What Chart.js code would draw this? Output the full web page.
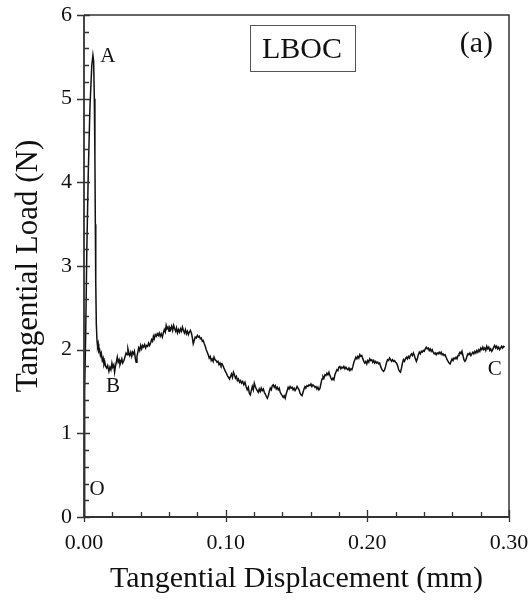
<!DOCTYPE html>
<html>
<head>
<meta charset="utf-8">
<script src="https://cdn.jsdelivr.net/npm/chart.js@4.4.1/dist/chart.umd.min.js"></script>
<style>
html,body{margin:0;padding:0;background:#fff;}
#wrap{width:532px;height:605px;}
</style>
</head>
<body>
<div id="wrap"><canvas id="c" width="532" height="605"></canvas></div>
<script>
// Tangential displacement (mm)
const dispMm = [
0,0.0003,0.0006,0.0012,0.0020,0.0030,0.0042,0.0055,0.0063,0.0068,0.0073,0.0077,0.0080,0.0083,0.0087,0.0092,0.0096,0.0100,0.0104,0.0110,
0.0116,0.0122,0.0129,0.0135,0.0141,0.0147,0.0153,0.0160,0.0167,0.0176,0.0183,0.0190,0.0197,0.0203,0.0210,0.0216,0.0222,0.0229,0.0235,0.0241,
0.0248,0.0254,0.0260,0.0267,0.0273,0.0282,0.0290,0.0297,0.0304,0.0310,0.0317,0.0323,0.0330,0.0337,0.0343,0.0350,0.0356,0.0362,0.0368,0.0374,
0.0380,0.0386,0.0393,0.0400,0.0407,0.0414,0.0421,0.0428,0.0435,0.0442,0.0449,0.0456,0.0463,0.0470,0.0477,0.0484,0.0490,0.0496,0.0503,0.0510,
0.0517,0.0524,0.0531,0.0538,0.0545,0.0553,0.0560,0.0567,0.0574,0.0580,0.0586,0.0593,0.0600,0.0606,0.0612,0.0619,0.0626,0.0633,0.0640,0.0647,
0.0653,0.0660,0.0667,0.0674,0.0681,0.0688,0.0695,0.0702,0.0709,0.0716,0.0723,0.0730,0.0737,0.0744,0.0751,0.0758,0.0765,0.0771,0.0778,0.0785,
0.0792,0.0800,0.0807,0.0814,0.0821,0.0828,0.0835,0.0842,0.0849,0.0856,0.0863,0.0870,0.0877,0.0884,0.0891,0.0898,0.0905,0.0912,0.0918,0.0925,
0.0932,0.0939,0.0946,0.0953,0.0960,0.0967,0.0974,0.0983,0.0990,0.0998,0.1005,0.1012,0.1020,0.1027,0.1034,0.1041,0.1048,0.1055,0.1062,0.1069,
0.1076,0.1083,0.1090,0.1098,0.1105,0.1112,0.1120,0.1128,0.1136,0.1144,0.1152,0.1160,0.1167,0.1174,0.1181,0.1188,0.1195,0.1202,0.1209,0.1216,
0.1223,0.1230,0.1237,0.1244,0.1251,0.1258,0.1266,0.1273,0.1280,0.1287,0.1294,0.1301,0.1308,0.1315,0.1322,0.1329,0.1336,0.1343,0.1350,0.1357,
0.1364,0.1371,0.1378,0.1385,0.1392,0.1399,0.1406,0.1413,0.1420,0.1427,0.1434,0.1441,0.1448,0.1455,0.1462,0.1469,0.1476,0.1483,0.1490,0.1497,
0.1504,0.1511,0.1518,0.1525,0.1532,0.1539,0.1546,0.1553,0.1560,0.1567,0.1574,0.1581,0.1588,0.1595,0.1602,0.1609,0.1616,0.1623,0.1630,0.1637,
0.1644,0.1651,0.1658,0.1666,0.1673,0.1680,0.1687,0.1694,0.1701,0.1708,0.1715,0.1722,0.1729,0.1736,0.1743,0.1750,0.1757,0.1764,0.1771,0.1778,
0.1785,0.1792,0.1799,0.1806,0.1813,0.1820,0.1827,0.1834,0.1842,0.1849,0.1856,0.1863,0.1870,0.1877,0.1884,0.1891,0.1898,0.1905,0.1912,0.1919,
0.1926,0.1933,0.1940,0.1947,0.1954,0.1961,0.1968,0.1975,0.1982,0.1989,0.1996,0.2003,0.2010,0.2017,0.2024,0.2031,0.2038,0.2045,0.2052,0.2059,
0.2066,0.2073,0.2080,0.2087,0.2094,0.2101,0.2108,0.2115,0.2122,0.2129,0.2136,0.2143,0.2150,0.2157,0.2164,0.2171,0.2178,0.2185,0.2192,0.2199,
0.2206,0.2213,0.2220,0.2227,0.2234,0.2241,0.2248,0.2255,0.2262,0.2269,0.2276,0.2283,0.2290,0.2297,0.2304,0.2311,0.2318,0.2325,0.2332,0.2339,
0.2346,0.2353,0.2360,0.2367,0.2374,0.2381,0.2388,0.2395,0.2402,0.2409,0.2416,0.2423,0.2430,0.2437,0.2444,0.2451,0.2458,0.2465,0.2472,0.2479,
0.2486,0.2493,0.2500,0.2507,0.2514,0.2521,0.2528,0.2535,0.2542,0.2549,0.2556,0.2563,0.2570,0.2577,0.2584,0.2591,0.2598,0.2605,0.2612,0.2619,
0.2626,0.2633,0.2640,0.2647,0.2654,0.2661,0.2668,0.2675,0.2682,0.2689,0.2696,0.2703,0.2710,0.2717,0.2724,0.2731,0.2738,0.2745,0.2752,0.2759,
0.2766,0.2773,0.2780,0.2787,0.2794,0.2801,0.2808,0.2815,0.2822,0.2829,0.2836,0.2843,0.2850,0.2857,0.2864,0.2871,0.2878,0.2885,0.2892,0.2899,
0.2906,0.2913,0.2920,0.2927,0.2934,0.2941,0.2948,0.2955,0.2962,0.2969
];
// Tangential load (N)
const loadN = [
0,0.8,1.5,2.2,3.2,4.1,4.9,5.4,5.52,5.45,5.0,4.3,3.5,2.8,2.3,2.1,2.04,2.07,1.98,2.0,
1.93,1.96,1.87,1.9,1.82,1.85,1.80,1.78,1.81,1.74,1.79,1.76,1.84,1.79,1.82,1.73,1.80,1.86,1.91,1.85,
1.88,1.82,1.85,1.89,1.84,1.87,1.92,1.96,1.94,2.01,1.96,1.93,1.97,1.92,1.97,1.95,1.98,1.90,1.85,1.92,
1.97,2.02,1.99,2.05,2.01,2.05,2.03,2.06,2.02,2.05,2.04,2.08,2.05,2.08,2.12,2.10,2.16,2.13,2.18,2.16,
2.19,2.17,2.20,2.16,2.19,2.15,2.20,2.24,2.21,2.29,2.25,2.27,2.22,2.26,2.24,2.28,2.23,2.29,2.25,2.22,
2.26,2.20,2.24,2.21,2.25,2.22,2.27,2.23,2.20,2.24,2.19,2.22,2.18,2.21,2.23,2.20,2.14,2.07,2.11,2.15,
2.14,2.17,2.15,2.16,2.13,2.14,2.10,2.11,2.07,2.04,2.00,1.97,1.94,1.90,1.92,1.87,1.89,1.86,1.91,1.88,
1.87,1.85,1.86,1.82,1.84,1.81,1.83,1.80,1.77,1.74,1.72,1.69,1.67,1.65,1.68,1.71,1.67,1.73,1.70,1.66,
1.68,1.63,1.65,1.61,1.63,1.60,1.62,1.58,1.61,1.56,1.52,1.55,1.48,1.46,1.51,1.56,1.52,1.60,1.56,1.53,
1.51,1.49,1.53,1.50,1.54,1.51,1.53,1.49,1.47,1.44,1.42,1.45,1.50,1.54,1.52,1.57,1.58,1.55,1.57,1.53,
1.55,1.52,1.54,1.49,1.47,1.45,1.43,1.45,1.42,1.47,1.51,1.55,1.53,1.56,1.54,1.55,1.52,1.54,1.51,1.53,
1.56,1.54,1.52,1.48,1.46,1.45,1.49,1.53,1.56,1.55,1.57,1.56,1.58,1.57,1.59,1.56,1.58,1.57,1.55,1.56,
1.53,1.55,1.52,1.54,1.60,1.65,1.68,1.66,1.70,1.69,1.72,1.70,1.73,1.69,1.66,1.64,1.66,1.64,1.70,1.73,
1.76,1.75,1.79,1.80,1.77,1.79,1.78,1.80,1.77,1.79,1.77,1.76,1.78,1.75,1.77,1.76,1.80,1.85,1.88,1.91,
1.89,1.92,1.90,1.94,1.92,1.93,1.89,1.86,1.84,1.86,1.83,1.87,1.85,1.89,1.87,1.88,1.85,1.87,1.84,1.86,
1.84,1.85,1.83,1.84,1.80,1.77,1.75,1.74,1.76,1.80,1.85,1.88,1.87,1.90,1.88,1.86,1.88,1.86,1.87,1.85,
1.84,1.81,1.77,1.74,1.73,1.78,1.84,1.88,1.86,1.89,1.91,1.89,1.92,1.90,1.93,1.95,1.93,1.96,1.93,1.89,
1.86,1.89,1.94,1.97,1.95,1.98,1.97,1.99,1.98,2.01,2.03,2.01,2.02,1.99,2.01,1.98,2.00,1.97,1.95,1.96,
1.94,1.96,1.95,1.97,1.95,1.97,1.94,1.95,1.93,1.94,1.91,1.88,1.86,1.84,1.83,1.86,1.89,1.87,1.90,1.89,
1.91,1.89,1.93,1.95,1.97,1.95,1.98,1.93,1.88,1.86,1.88,1.92,1.95,1.94,1.96,1.93,1.95,1.97,1.95,1.98,
1.96,1.99,1.97,2.00,1.98,2.02,2.00,2.03,2.00,2.02,1.99,2.04,2.01,2.03,1.99,2.01,1.98,2.00,2.03,2.05,
2.02,2.04,2.01,2.03,2.00,2.02,2.04,2.02,2.04,2.03
];
const xMajorTicks = [0.00, 0.10, 0.20, 0.30];
const xMinorTicks = [0.02,0.04,0.06,0.08,0.12,0.14,0.16,0.18,0.22,0.24,0.26,0.28];
const yMajorTicks = [0,1,2,3,4,5,6];
const yMinorTicks = [0.2,0.4,0.6,0.8,1.2,1.4,1.6,1.8,2.2,2.4,2.6,2.8,3.2,3.4,3.6,3.8,4.2,4.4,4.6,4.8,5.2,5.4,5.6,5.8];
const pointLabels = ['A','B','C','O'];
const pointLabelX = [0.0169, 0.0205, 0.2900, 0.0092];
const pointLabelY = [5.44, 1.49, 1.70, 0.26];

const FONT = '"Liberation Serif", "Times New Roman", serif';
const points = dispMm.map((x, i) => ({x: x, y: loadN[i]}));

const decor = {
  id: 'decor',
  afterDraw(chart) {
    const ctx = chart.ctx;
    const xs = chart.scales.x, ys = chart.scales.y;
    const a = chart.chartArea;
    ctx.save();
    // frame
    ctx.strokeStyle = '#333';
    ctx.lineWidth = 1.5;
    ctx.beginPath();
    ctx.moveTo(a.left, a.top); ctx.lineTo(a.right, a.top); ctx.lineTo(a.right, a.bottom);
    ctx.stroke();
    ctx.lineWidth = 1.8;
    ctx.beginPath();
    ctx.moveTo(a.left, a.top); ctx.lineTo(a.left, a.bottom); ctx.lineTo(a.right, a.bottom);
    ctx.stroke();
    // ticks
    ctx.lineWidth = 1.3;
    ctx.beginPath();
    xMajorTicks.forEach(v => { const p = Math.round(xs.getPixelForValue(v)) + 0.5; ctx.moveTo(p, a.bottom + 5); ctx.lineTo(p, a.bottom - 7); });
    xMinorTicks.forEach(v => { const p = Math.round(xs.getPixelForValue(v)) + 0.5; ctx.moveTo(p, a.bottom); ctx.lineTo(p, a.bottom - 5); });
    yMajorTicks.forEach(v => { const p = Math.round(ys.getPixelForValue(v)) + 0.5; ctx.moveTo(a.left - 7, p); ctx.lineTo(a.left + 6, p); });
    yMinorTicks.forEach(v => { const p = Math.round(ys.getPixelForValue(v)) + 0.5; ctx.moveTo(a.left, p); ctx.lineTo(a.left + 5, p); });
    ctx.stroke();
    // point labels
    ctx.fillStyle = '#111';
    ctx.font = '21px ' + FONT;
    ctx.textAlign = 'center';
    ctx.textBaseline = 'alphabetic';
    pointLabels.forEach((t, i) => ctx.fillText(t, xs.getPixelForValue(pointLabelX[i]), ys.getPixelForValue(pointLabelY[i])));
    // LBOC box
    const bx0 = xs.getPixelForValue(0.1172), bx1 = xs.getPixelForValue(0.1913);
    const by0 = ys.getPixelForValue(5.88), by1 = ys.getPixelForValue(5.33);
    ctx.strokeStyle = '#555';
    ctx.lineWidth = 1;
    ctx.strokeRect(Math.round(bx0) + 0.5, Math.round(by0) + 0.5, Math.round(bx1 - bx0), Math.round(by1 - by0));
    ctx.font = '30px ' + FONT;
    ctx.fillText('LBOC', xs.getPixelForValue(0.1539), ys.getPixelForValue(5.486));
    ctx.fillText('(a)', xs.getPixelForValue(0.277), ys.getPixelForValue(5.56));
    ctx.restore();
  }
};

new Chart(document.getElementById('c'), {
  type: 'scatter',
  data: {
    datasets: [{
      data: points,
      showLine: true,
      borderColor: '#111',
      borderWidth: 1.5,
      pointRadius: 0,
      tension: 0,
      fill: false
    }]
  },
  options: {
    responsive: false,
    animation: false,
    events: [],
    layout: { padding: { top: 15, right: 23, left: 0, bottom: 0 } },
    plugins: { legend: { display: false }, tooltip: { enabled: false } },
    scales: {
      x: {
        type: 'linear', min: 0, max: 0.3,
        afterFit: s => { s.height = 88; s.paddingLeft = 0; s.paddingRight = 0; },
        afterBuildTicks: s => { s.ticks = xMajorTicks.map(v => ({value: v})); },
        grid: { display: false, drawTicks: false },
        border: { display: false },
        ticks: { color: '#111', font: { family: FONT, size: 22 }, padding: 13, callback: v => Number(v).toFixed(2), maxRotation: 0 },
        title: { display: true, text: 'Tangential Displacement (mm)', color: '#111', font: { family: FONT, size: 30 }, padding: 8 }
      },
      y: {
        type: 'linear', min: 0, max: 6,
        afterFit: s => { s.width = 84; s.paddingTop = 0; s.paddingBottom = 0; },
        afterBuildTicks: s => { s.ticks = yMajorTicks.map(v => ({value: v})); },
        grid: { display: false, drawTicks: false },
        border: { display: false },
        ticks: { color: '#111', font: { family: FONT, size: 22 }, padding: 12, callback: v => String(v) },
        title: { display: true, text: 'Tangential Load (N)', color: '#111', font: { family: FONT, size: 31 }, padding: 10 }
      }
    }
  },
  plugins: [decor]
});
</script>
</body>
</html>
